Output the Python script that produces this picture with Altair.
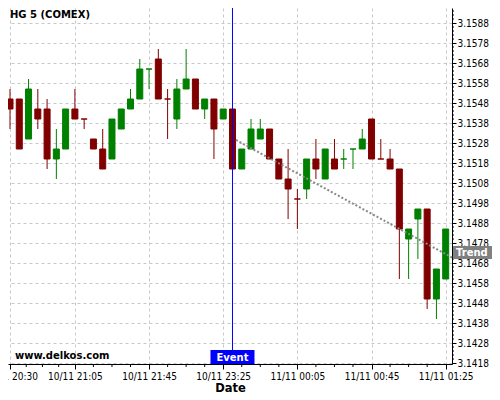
import json
import altair as alt
import pandas as pd

# ---- candle data (5-minute bars, index based) ----
opens = [3.1550, 3.1550, 3.1530, 3.1545, 3.1545, 3.1520, 3.1525, 3.1545, 3.1540, 3.1530,
         3.1525, 3.1520, 3.1535, 3.1545, 3.1550, 3.1565, 3.1570, 3.1550, 3.1540, 3.1555,
         3.1560, 3.1545, 3.1550, 3.1540, 3.1545, 3.1515, 3.1525, 3.1530, 3.1535, 3.1520,
         3.1510, 3.1500, 3.1505, 3.1520, 3.1510, 3.1520, 3.1520, 3.1525, 3.1525, 3.1540,
         3.1520, 3.1520, 3.1515, 3.1480, 3.1490, 3.1495, 3.1450, 3.1460]
highs = [3.1555, 3.1550, 3.1560, 3.1555, 3.1550, 3.1535, 3.1545, 3.1555, 3.1540, 3.1530,
         3.1535, 3.1540, 3.1545, 3.1555, 3.1570, 3.1565, 3.1575, 3.1555, 3.1560, 3.1575,
         3.1560, 3.1550, 3.1550, 3.1545, 3.1545, 3.1525, 3.1540, 3.1540, 3.1535, 3.1520,
         3.1525, 3.1505, 3.1520, 3.1530, 3.1525, 3.1530, 3.1525, 3.1525, 3.1535, 3.1540,
         3.1530, 3.1525, 3.1515, 3.1485, 3.1495, 3.1495, 3.1465, 3.1485]
lows = [3.1535, 3.1525, 3.1530, 3.1535, 3.1515, 3.1510, 3.1525, 3.1540, 3.1535, 3.1525,
        3.1515, 3.1520, 3.1535, 3.1545, 3.1550, 3.1555, 3.1550, 3.1530, 3.1535, 3.1555,
        3.1545, 3.1540, 3.1520, 3.1540, 3.1515, 3.1515, 3.1525, 3.1530, 3.1520, 3.1510,
        3.1490, 3.1485, 3.1500, 3.1510, 3.1510, 3.1515, 3.1515, 3.1515, 3.1525, 3.1520,
        3.1520, 3.1515, 3.1460, 3.1460, 3.1470, 3.1445, 3.1440, 3.1460]
closes = [3.1545, 3.1525, 3.1555, 3.1540, 3.1520, 3.1525, 3.1545, 3.1540, 3.1540, 3.1525,
          3.1515, 3.1540, 3.1545, 3.1550, 3.1565, 3.1565, 3.1550, 3.1550, 3.1555, 3.1560,
          3.1545, 3.1550, 3.1535, 3.1545, 3.1515, 3.1525, 3.1535, 3.1535, 3.1520, 3.1510,
          3.1505, 3.1500, 3.1520, 3.1515, 3.1525, 3.1515, 3.1520, 3.1525, 3.1530, 3.1520,
          3.1520, 3.1515, 3.1485, 3.1485, 3.1495, 3.1450, 3.1465, 3.1485]
dirs = ["d", "d", "u", "d", "d", "u", "u", "d", "d", "d", "d", "u", "u", "u", "u", "u",
        "d", "d", "u", "u", "d", "u", "d", "u", "d", "u", "u", "u", "d", "d", "d", "d",
        "u", "d", "u", "d", "u", "u", "u", "d", "d", "d", "d", "u", "u", "d", "u", "u"]

tick_idx = [0, 7, 15, 23, 31, 39, 47]
tick_labels = ["10/11 20:30", "10/11 21:05", "10/11 21:45", "10/11 23:25",
               "11/11 00:05", "11/11 00:45", "11/11 01:25"]
minor_x = [1.75, 3.5, 5.25, 9, 11, 13, 17, 19, 21, 25, 27, 29, 33, 35, 37, 41, 43, 45]
y_ticks = [round(3.1418 + 0.001 * k, 4) for k in range(18)]
minor_y = [round(3.1418 + 0.0002 * k, 4) for k in range(90) if k % 5 != 0]

event_idx = [24]
trend_idx = [24.38, 47.68]
trend_val = [3.15295, 3.147075]

df = pd.DataFrame({"idx": list(range(len(opens))), "open": opens, "high": highs,
                   "low": lows, "close": closes, "dir": dirs})

W, H = 444, 356
x_scale = alt.Scale(domain=[-0.216, 47.68], nice=False, zero=False, padding=0)
y_scale = alt.Scale(domain=[3.14175, 3.15955], nice=False, zero=False, padding=0)
col_scale = alt.Scale(domain=["u", "d"], range=["#008000", "#800000"])
FONT = "DejaVu Sans"
LFONT = "DejaVu Sans Condensed, DejaVu Sans"

label_expr = f"{json.dumps(tick_labels)}[indexof({json.dumps(tick_idx)}, datum.value)]"
x_axis = alt.Axis(values=tick_idx, tickCount=50, labelExpr=label_expr, title="Date",
                  grid=True, gridDash=[3, 3], gridColor="#c8c8c8", tickSize=5,
                  tickColor="black", domainColor="black", labelFont=LFONT,
                  labelFontSize=10, labelColor="black", labelPadding=2,
                  labelFlush=False, labelOverlap=False,
                  titleFont=FONT, titleFontSize=11.5, titleFontWeight="bold",
                  titleColor="black", titleBaseline="alphabetic", titleY=27)
y_axis = alt.Axis(orient="right", values=y_ticks, tickCount=100, format=".4f", title=None,
                  grid=True, gridDash=[3, 3], gridColor="#c8c8c8", tickSize=4,
                  tickColor="black", domainColor="black", labelFont=LFONT,
                  labelFontSize=10, labelColor="black", labelPadding=1,
                  labelOverlap=False)

wicks = alt.Chart(df).mark_rule(strokeWidth=1).encode(
    x=alt.X("idx:Q", scale=x_scale, axis=x_axis),
    y=alt.Y("low:Q", scale=y_scale, axis=y_axis),
    y2="high:Q",
    color=alt.Color("dir:N", scale=col_scale, legend=None),
)
bodies = alt.Chart(df).mark_bar(width=6, strokeWidth=1).encode(
    x=alt.X("idx:Q", scale=x_scale),
    y=alt.Y("open:Q", scale=y_scale),
    y2="close:Q",
    color=alt.Color("dir:N", scale=col_scale, legend=None),
    stroke=alt.Stroke("dir:N", scale=col_scale, legend=None),
)

mx = alt.Chart(pd.DataFrame({"idx": minor_x})).mark_rule(color="black").encode(
    x=alt.X("idx:Q", scale=x_scale), y=alt.value(H), y2=alt.value(H + 3))
my = alt.Chart(pd.DataFrame({"v": minor_y})).mark_rule(color="black").encode(
    y=alt.Y("v:Q", scale=y_scale), x=alt.value(W), x2=alt.value(W + 2))

trend = alt.Chart(pd.DataFrame({"idx": trend_idx, "v": trend_val})).mark_line(
    color="#888888", strokeDash=[2, 2], strokeWidth=2).encode(
    x=alt.X("idx:Q", scale=x_scale), y=alt.Y("v:Q", scale=y_scale))

ev_df = pd.DataFrame({"idx": event_idx, "label": ["Event"]})
ev_line = alt.Chart(ev_df).mark_rule(color="#0000ff", strokeWidth=1).encode(
    x=alt.X("idx:Q", scale=x_scale))
ev_box = alt.Chart(ev_df).mark_bar(width=44, color="#0000ff").encode(
    x=alt.X("idx:Q", scale=x_scale), y=alt.value(H - 14), y2=alt.value(H))
ev_txt = alt.Chart(ev_df).mark_text(color="white", font=FONT, fontWeight="bold",
                                    fontSize=10, align="center", baseline="middle").encode(
    x=alt.X("idx:Q", scale=x_scale), y=alt.value(H - 6.5), text="label:N")

tr_df = pd.DataFrame({"label": ["Trend"]})
tr_box = alt.Chart(tr_df).mark_rect(color="#808080").encode(
    x=alt.value(W + 1), x2=alt.value(W + 48), y=alt.value(238), y2=alt.value(251))
tr_txt = alt.Chart(tr_df).mark_text(color="white", font=FONT, fontWeight="bold",
                                    fontSize=10, align="left", baseline="middle").encode(
    x=alt.value(W + 4), y=alt.value(244.5), text="label:N")

t1 = alt.Chart(pd.DataFrame({"label": ["HG 5 (COMEX)"]})).mark_text(
    color="black", font=FONT, fontWeight="bold", fontSize=10, align="left",
    baseline="middle").encode(x=alt.value(2), y=alt.value(6.5), text="label:N")
t2 = alt.Chart(pd.DataFrame({"label": ["www.delkos.com"]})).mark_text(
    color="black", font=FONT, fontWeight="bold", fontSize=10, align="left",
    baseline="middle").encode(x=alt.value(7), y=alt.value(347.5), text="label:N")

chart = alt.layer(wicks, bodies, mx, my, trend, ev_line, ev_box, ev_txt,
                  tr_box, tr_txt, t1, t2).properties(
    width=W, height=H,
    autosize=alt.AutoSizeParams(type="none"),
    padding={"left": 0, "top": 0, "right": 40, "bottom": 28},
    background="white",
).configure_view(strokeWidth=0)

chart.save("out.html", embed_options={"renderer": "svg", "actions": False})
